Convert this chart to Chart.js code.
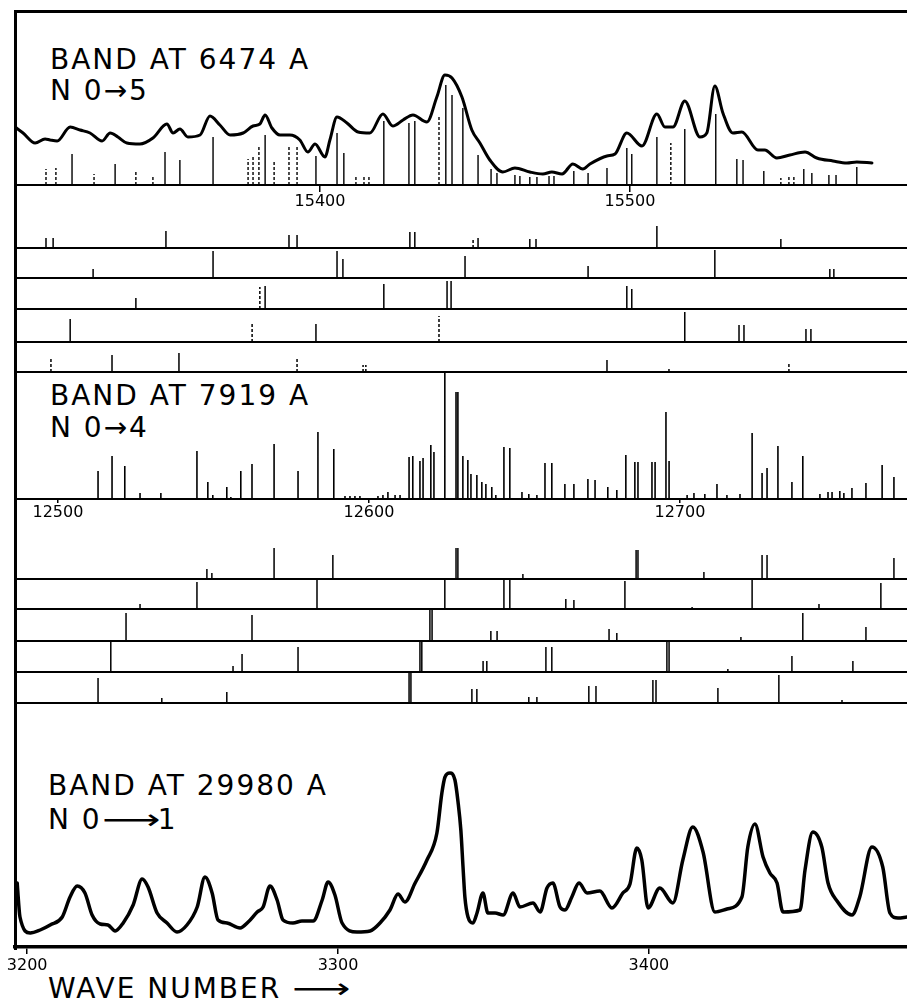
<!DOCTYPE html>
<html>
<head>
<meta charset="utf-8">
<script src="https://cdn.jsdelivr.net/npm/chart.js@4.4.0/dist/chart.umd.min.js"></script>
<style>
  html, body { margin: 0; padding: 0; background: #fff; }
  body { position: relative; width: 907px; height: 999px; overflow: hidden; font-family: "DejaVu Sans", sans-serif; color: #000; }
  canvas { position: absolute; left: 0; }
  .frame { position: absolute; left: 14px; top: 10px; width: 893px; height: 937px; border-left: 3px solid #000; border-top: 3px solid #000; }
  .lbl { position: absolute; white-space: pre; font-size: 28px; line-height: 28px; letter-spacing: 2px; }
  .arr { display: inline-block; transform: scaleX(1.45); transform-origin: left center; margin-right: 14px; }
</style>
</head>
<body>
<div class="frame"></div>
<div class="lbl" style="left:50px; top:46px;">BAND AT 6474 A</div>
<div class="lbl" style="left:50px; top:77px;">N 0→5</div>
<div class="lbl" style="left:50px; top:382px;">BAND AT 7919 A</div>
<div class="lbl" style="left:50px; top:414px;">N 0→4</div>
<div class="lbl" style="left:48px; top:772px;">BAND AT 29980 A</div>
<div class="lbl" style="left:48px; top:806px;">N 0<span class="arr">⟶</span>1</div>
<div class="lbl" style="left:48px; top:975px;">WAVE NUMBER <span class="arr">⟶</span></div>
<script>
// band at 6474 A (N 0->5)
const p1Range = [15301.6, 15589.4];
const p1Ticks = [15400, 15500];
const p1CurveWn = [15301.6, 15304.2, 15308.1, 15311.3, 15312.9, 15315.2, 15319.4, 15322.6, 15325.8, 15329.7,
    15332.3, 15334.8, 15337.7, 15341.9, 15346.1, 15350.6, 15352.6, 15354.8, 15357.4, 15361.3,
    15364.5, 15367.7, 15371.0, 15375.2, 15378.4, 15380.6, 15382.3, 15384.5, 15387.1, 15390.3,
    15393.5, 15396.1, 15398.4, 15401.6, 15403.2, 15405.5, 15408.7, 15412.3, 15416.1, 15420.3,
    15423.5, 15426.8, 15430.0, 15434.5, 15437.7, 15440.3, 15442.6, 15445.8, 15449.0, 15451.6,
    15454.8, 15459.0, 15462.9, 15467.7, 15471.9, 15474.8, 15478.1, 15481.6, 15484.8, 15487.1,
    15492.6, 15495.2, 15499.0, 15503.9, 15508.7, 15511.3, 15513.9, 15517.7, 15522.6, 15524.8,
    15527.4, 15530.0, 15533.2, 15536.1, 15541.3, 15543.5, 15547.4, 15551.6, 15556.5, 15560.3,
    15565.5, 15570.0, 15573.2, 15578.1];
const p1CurveI = [58, 52, 42, 46, 45, 44, 58, 55, 52, 44,
    52, 48, 42, 41, 47, 61, 52, 56, 48, 50,
    69, 60, 50, 52, 59, 61, 70, 57, 50, 50,
    45, 33, 41, 28, 45, 68, 62, 53, 52, 71,
    59, 65, 70, 63, 88, 110, 107, 88, 55, 42,
    25, 13, 17, 13, 11, 13, 11, 21, 16, 21,
    29, 31, 52, 39, 71, 58, 58, 84, 48, 52,
    99, 72, 52, 53, 35, 35, 27, 30, 33, 27,
    24, 22, 23, 22];
const p1Lines = [[15320.0, 31], [15333.9, 21], [15350.0, 33], [15354.8, 25], [15365.5, 48], [15382.3, 50],
    [15398.7, 29], [15405.5, 52], [15407.7, 32], [15420.6, 64], [15428.7, 62], [15430.6, 64],
    [15440.6, 100], [15442.6, 90], [15446.1, 77], [15451.0, 30], [15455.2, 16], [15457.1, 12],
    [15462.9, 10], [15464.5, 9], [15467.7, 8], [15470.0, 8], [15473.9, 9], [15475.5, 9],
    [15481.9, 14], [15486.5, 12], [15492.6, 17], [15499.0, 37], [15500.6, 31], [15508.7, 48],
    [15517.7, 56], [15527.7, 71], [15534.5, 26], [15536.5, 25], [15543.2, 14], [15556.1, 16],
    [15558.7, 12], [15564.2, 10], [15566.5, 10], [15573.2, 18]];
const p1LinesDashed = [[15311.6, 16], [15314.8, 17], [15327.1, 11], [15340.6, 13], [15346.1, 8],
    [15376.8, 26], [15378.4, 30], [15380.3, 40], [15385.2, 23], [15390.0, 39], [15392.6, 38],
    [15411.6, 9], [15414.2, 9], [15415.8, 10], [15438.4, 70], [15513.2, 42], [15548.7, 7],
    [15551.3, 9], [15552.9, 10]];
const p1Row1 = [[15311.6, 10], [15313.9, 10], [15350.3, 17], [15390.0, 13], [15392.6, 13], [15429.0, 16],
    [15430.6, 16], [15451.0, 10], [15467.7, 9], [15469.7, 9], [15508.7, 22], [15548.7, 9]];
const p1Row1Dashed = [[15449.4, 10]];
const p1Row2 = [[15326.8, 9], [15365.5, 27], [15405.5, 27], [15407.4, 19], [15446.8, 22], [15486.5, 12],
    [15527.4, 28], [15564.5, 9], [15565.8, 9]];
const p1Row2Dashed = [];
const p1Row3 = [[15340.6, 11], [15382.3, 23], [15420.6, 25], [15441.0, 28], [15442.3, 28], [15499.0, 23],
    [15500.6, 20]];
const p1Row3Dashed = [[15380.6, 22]];
const p1Row4 = [[15319.4, 23], [15398.7, 18], [15517.7, 30], [15535.2, 17], [15536.8, 17], [15556.8, 13],
    [15558.4, 13]];
const p1Row4Dashed = [[15378.1, 19], [15438.4, 26]];
const p1Row5 = [[15332.9, 17], [15354.5, 19], [15492.6, 12], [15512.6, 3]];
const p1Row5Dashed = [[15313.2, 14], [15392.6, 15], [15413.9, 7], [15414.8, 7], [15551.3, 9]];

// band at 7919 A (N 0->4)
const p2Range = [12486.2, 12773.0];
const p2Ticks = [12500, 12600, 12700];
const p2Lines = [[12512.9, 28], [12517.4, 43], [12521.5, 33], [12526.4, 6], [12533.1, 6], [12544.7, 48],
    [12548.2, 17], [12549.8, 4], [12554.3, 12], [12555.6, 2], [12558.8, 28], [12562.4, 35],
    [12569.5, 55], [12577.2, 28], [12583.6, 67], [12588.7, 50], [12592.3, 3], [12593.9, 3],
    [12595.5, 3], [12597.1, 3], [12602.9, 3], [12604.5, 4], [12606.1, 7], [12608.4, 4],
    [12610.0, 4], [12612.9, 42], [12614.1, 43], [12616.4, 38], [12617.4, 41], [12619.9, 54],
    [12620.9, 47], [12624.4, 127], [12628.0, 107], [12628.6, 107], [12630.2, 43], [12631.8, 39],
    [12632.8, 25], [12634.7, 24], [12636.3, 17], [12637.6, 15], [12639.5, 12], [12640.8, 4],
    [12643.4, 52], [12645.3, 51], [12649.2, 7], [12651.4, 5], [12654.0, 4], [12656.6, 36],
    [12658.8, 36], [12663.0, 15], [12665.9, 15], [12670.4, 20], [12672.7, 19], [12676.8, 12],
    [12679.7, 9], [12682.6, 44], [12685.5, 37], [12686.5, 37], [12691.0, 37], [12692.0, 37],
    [12695.5, 87], [12696.5, 38], [12702.3, 4], [12704.5, 6], [12708.0, 5], [12711.9, 15],
    [12715.1, 4], [12719.3, 5], [12723.2, 66], [12726.4, 26], [12728.0, 31], [12731.5, 53],
    [12736.0, 17], [12739.5, 43], [12745.0, 5], [12747.6, 7], [12748.9, 7], [12751.4, 8],
    [12752.7, 6], [12755.3, 11], [12759.8, 16], [12765.0, 34], [12768.8, 22]];
const p2Row1 = [[12547.9, 10], [12549.5, 6], [12569.5, 31], [12588.4, 24], [12628.0, 31], [12628.6, 31],
    [12649.5, 5], [12685.9, 29], [12686.5, 29], [12707.7, 7], [12726.4, 24], [12728.0, 24], [12768.8, 21]];
const p2Row2 = [[12526.4, 5], [12544.7, 27], [12583.3, 30], [12624.4, 30], [12643.4, 30], [12645.3, 30],
    [12663.3, 10], [12665.9, 9], [12682.3, 28], [12703.9, 2], [12723.2, 30], [12744.7, 5], [12764.6, 26]];
const p2Row3 = [[12521.9, 28], [12562.4, 26], [12619.6, 31], [12620.3, 31], [12639.2, 10], [12641.2, 10],
    [12677.2, 12], [12679.7, 8], [12719.6, 4], [12739.5, 28], [12759.8, 14]];
const p2Row4 = [[12517.0, 31], [12556.3, 6], [12559.2, 18], [12577.2, 25], [12616.4, 31], [12617.0, 31],
    [12636.7, 11], [12637.9, 11], [12656.9, 25], [12658.8, 25], [12695.8, 31], [12696.5, 31],
    [12715.4, 3], [12736.0, 16], [12755.6, 11]];
const p2Row5 = [[12512.9, 25], [12533.4, 5], [12554.3, 11], [12612.9, 31], [12613.5, 31], [12633.1, 14],
    [12634.7, 14], [12651.4, 6], [12654.0, 6], [12670.7, 17], [12673.0, 17], [12691.3, 23],
    [12692.3, 23], [12712.2, 15], [12731.8, 28], [12752.1, 3]];

// band at 29980 A (N 0->1)
const p3Range = [3196.1, 3483.0];
const p3Ticks = [3200, 3300, 3400];
const p3CurveWn = [3196.8, 3197.7, 3201.0, 3204.2, 3207.4, 3211.3, 3213.8, 3216.1, 3218.6, 3220.9,
    3223.5, 3226.0, 3228.3, 3230.9, 3234.1, 3237.0, 3238.9, 3241.8, 3245.0, 3248.2,
    3251.4, 3254.7, 3257.2, 3259.5, 3261.4, 3264.3, 3268.5, 3271.1, 3274.0, 3275.9,
    3278.1, 3280.4, 3282.3, 3285.5, 3288.4, 3292.0, 3294.9, 3296.8, 3299.0, 3301.3,
    3306.1, 3310.3, 3313.5, 3316.7, 3319.3, 3321.5, 3324.8, 3328.6, 3331.8, 3333.4,
    3334.4, 3336.0, 3337.6, 3338.6, 3339.5, 3340.2, 3340.8, 3341.8, 3343.4, 3344.7,
    3346.6, 3348.2, 3350.5, 3353.1, 3356.3, 3358.5, 3362.7, 3365.0, 3367.2, 3369.1,
    3371.4, 3373.0, 3375.2, 3377.5, 3380.1, 3384.2, 3388.1, 3391.6, 3393.9, 3396.1,
    3397.7, 3399.7, 3403.5, 3407.7, 3410.9, 3414.1, 3417.4, 3421.2, 3425.1, 3429.9,
    3431.8, 3434.1, 3436.7, 3438.9, 3441.2, 3443.1, 3448.6, 3450.2, 3452.7, 3455.6,
    3457.6, 3460.5, 3465.3, 3467.8, 3471.7, 3475.2, 3477.5, 3480.1, 3483.0];
const p3CurveI = [64, 30, 14, 17, 22, 30, 50, 61, 54, 32,
    23, 22, 16, 24, 42, 68, 60, 34, 24, 15,
    22, 40, 70, 54, 27, 24, 19, 25, 35, 40,
    61, 47, 27, 24, 26, 26, 47, 65, 52, 24,
    15, 16, 24, 37, 53, 45, 64, 87, 114, 154,
    170, 174, 167, 145, 117, 80, 50, 30, 24, 34,
    54, 34, 34, 32, 54, 40, 44, 35, 59, 64,
    40, 37, 50, 64, 54, 56, 39, 54, 63, 99,
    87, 39, 59, 44, 87, 120, 95, 35, 38, 50,
    100, 123, 90, 74, 64, 35, 37, 77, 115, 100,
    64, 46, 32, 50, 100, 80, 34, 29, 30];

Chart.defaults.font.family = '"DejaVu Sans", sans-serif';
Chart.defaults.color = '#000';

function stickPoints(list) {
    let pts = [];
    for (let i = 0; i < list.length; i++) {
        pts.push({x: list[i][0], y: 0});
        pts.push({x: list[i][0], y: list[i][1]});
        pts.push({x: list[i][0], y: null});
    }
    return pts;
}

function stickSet(list, dashed, width) {
    return {
        data: stickPoints(list),
        borderColor: '#000',
        borderWidth: width,
        borderDash: dashed ? [3, 2] : [],
        borderCapStyle: 'butt',
        pointRadius: 0,
        spanGaps: false,
        tension: 0
    };
}

function curveSet(wn, vals, width) {
    let pts = [];
    for (let i = 0; i < wn.length; i++) {
        pts.push({x: wn[i], y: vals[i]});
    }
    return {
        data: pts,
        borderColor: '#000',
        borderWidth: width,
        borderJoinStyle: 'round',
        borderCapStyle: 'round',
        pointRadius: 0,
        cubicInterpolationMode: 'monotone'
    };
}

// baseline = page y of the zero line, plotHeight = height of the drawing area above it
function addChart(baseline, plotHeight, range, datasets, axis) {
    let canvas = document.createElement('canvas');
    canvas.width = 907;
    canvas.height = plotHeight + axis.height;
    canvas.style.top = (baseline - plotHeight) + 'px';
    document.body.appendChild(canvas);

    let x = {
        type: 'linear',
        min: range[0],
        max: range[1],
        afterFit: s => { s.height = axis.height; },
        border: {display: true, color: '#000', width: axis.border}
    };
    if (axis.ticks) {
        x.afterBuildTicks = s => { s.ticks = axis.ticks.map(v => ({value: v})); };
        x.grid = {display: true, drawOnChartArea: false, drawTicks: true, tickLength: axis.tickLength, color: '#000', lineWidth: 1.5};
        x.ticks = {display: true, autoSkip: false, maxRotation: 0, padding: axis.padding,
            font: {size: axis.fontSize}, color: '#000', callback: v => String(v)};
    } else {
        x.grid = {display: false, drawTicks: false};
        x.ticks = {display: false};
    }

    return new Chart(canvas.getContext('2d'), {
        type: 'line',
        data: {datasets: datasets},
        options: {
            responsive: false,
            animation: false,
            devicePixelRatio: 1,
            layout: {padding: {left: 15, right: 0, top: 0, bottom: 0}},
            plugins: {legend: {display: false}, tooltip: {enabled: false}},
            scales: {
                x: x,
                y: {display: false, min: 0, max: plotHeight}
            }
        }
    });
}

function addRow(baseline, range, solid, dashed) {
    let sets = [stickSet(solid, false, 1.5)];
    if (dashed && dashed.length) sets.push(stickSet(dashed, true, 1.5));
    addChart(baseline, 31, range, sets, {height: 2, border: 2});
}

// panel 1
addChart(185, 173, p1Range, [
    curveSet(p1CurveWn, p1CurveI, 3),
    stickSet(p1Lines, false, 1.4),
    stickSet(p1LinesDashed, true, 1.4)
], {height: 30, border: 2, ticks: p1Ticks, tickLength: 7, padding: 0, fontSize: 16});

addRow(248, p1Range, p1Row1, p1Row1Dashed);
addRow(278, p1Range, p1Row2, p1Row2Dashed);
addRow(309, p1Range, p1Row3, p1Row3Dashed);
addRow(342, p1Range, p1Row4, p1Row4Dashed);
addRow(372, p1Range, p1Row5, p1Row5Dashed);

// panel 2
addChart(499, 127, p2Range, [
    stickSet(p2Lines, false, 1.6)
], {height: 30, border: 2, ticks: p2Ticks, tickLength: 4, padding: 0, fontSize: 16});

addRow(579, p2Range, p2Row1);
addRow(609, p2Range, p2Row2);
addRow(641, p2Range, p2Row3);
addRow(672, p2Range, p2Row4);
addRow(703, p2Range, p2Row5);

// panel 3
addChart(947, 207, p3Range, [
    curveSet(p3CurveWn, p3CurveI, 3.5)
], {height: 34, border: 3.5, ticks: p3Ticks, tickLength: 7, padding: 2, fontSize: 16});
</script>
</body>
</html>
